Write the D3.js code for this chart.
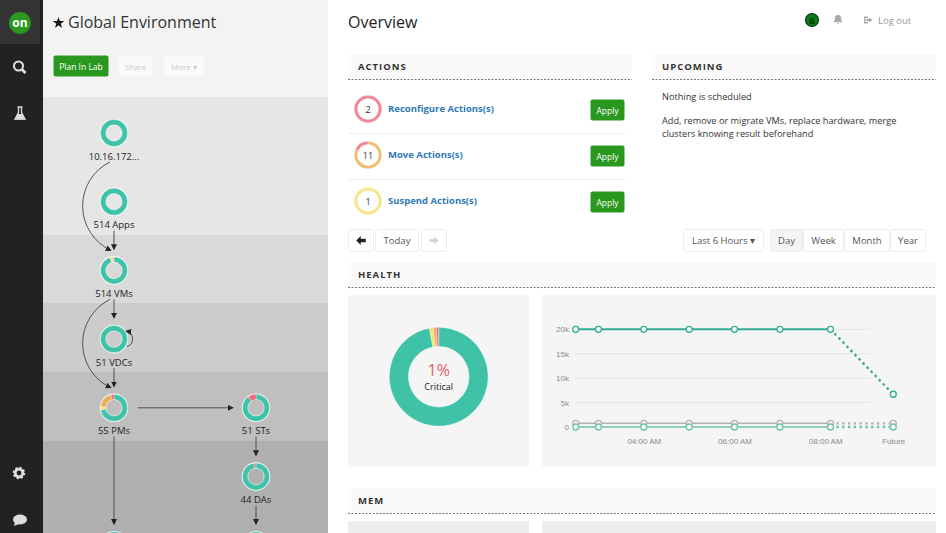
<!DOCTYPE html>
<html>
<head>
<meta charset="utf-8">
<script src="https://cdn.jsdelivr.net/npm/d3@7"></script>
<style>
  html, body { margin: 0; padding: 0; background: #fff; overflow: hidden; }
  svg { display: block; font-family: "Open Sans", sans-serif; }
  .axis text { font-family: "Liberation Sans", sans-serif; font-size: 8px; fill: #8a8a8a; }
  .axis .domain, .axis .tick line { display: none; }
</style>
</head>
<body>
<svg id="page" width="946" height="533"></svg>
<script>
// topology nodes
let nodeNames = ["10.16.172...", "514 Apps", "514 VMs", "51 VDCs", "55 PMs", "51 STs", "44 DAs", "", ""];
let nodeCols = [0, 0, 0, 0, 0, 1, 1, 0, 1];
let nodeRows = [0, 1, 2, 3, 4, 4, 5, 6, 6];
// ring counts, clockwise from the top: healthy, minor, major, critical
let nodeHealthy = [1, 1, 490, 51, 40, 46, 43, 1, 1];
let nodeMinor = [0, 0, 13, 0, 2, 0, 0, 0, 0];
let nodeMajor = [0, 0, 9, 0, 11, 0, 0, 0, 0];
let nodeCritical = [0, 0, 2, 0, 2, 5, 1, 0, 0];
let edgeFrom = [0, 1, 2, 2, 3, 3, 4, 4, 5, 6];
let edgeTo = [2, 2, 3, 4, 4, 3, 5, 7, 6, 8];
let edgeKind = ["arc", "line", "line", "arc", "line", "self", "side", "line", "line", "line"];

// actions
let actionNames = ["Reconfigure Actions(s)", "Move Actions(s)", "Suspend Actions(s)"];
let actionCounts = [2, 11, 1];
let actionMinor = [0, 0, 1];
let actionMajor = [0, 9, 0];
let actionCritical = [2, 2, 0];

// health donut, percent
let healthLabels = ["Healthy", "Minor", "Major", "Critical"];
let healthValues = [97, 1.2, 1, 0.8];

// health line chart
let times = ["02:30", "03:00", "04:00", "05:00", "06:00", "07:00", "08:07"];
let futureTime = "09:30";
let capacity = [20000, 20000, 20000, 20000, 20000, 20000, 20000];
let capacityFuture = 6700;
let utilized = [750, 750, 750, 750, 750, 750, 750];
let utilizedFuture = 750;
let baseline = [0, 0, 0, 0, 0, 0, 0];
let baselineFuture = 0;
let yTicks = [0, 5000, 10000, 15000, 20000];
let xTicks = ["04:00", "06:00", "08:00"];

let colors = ["#40c2a8", "#f5e06e", "#eead50", "#ee6a7c"];
let green = "#2a981e";
let svg = d3.select("#page");

function box(parent, x, y, w, h, fill, stroke, r) {
  return parent.append("rect").attr("x", x).attr("y", y).attr("width", w).attr("height", h)
    .attr("fill", fill).attr("stroke", stroke || "none").attr("rx", r || 0);
}
function label(parent, x, y, text, size, fill, anchor, weight) {
  return parent.append("text").attr("x", x).attr("y", y).text(text)
    .attr("font-size", size).attr("fill", fill)
    .attr("text-anchor", anchor || "start").attr("font-weight", weight || 400)
    .attr("dominant-baseline", "central");
}
function button(parent, x, y, w, h, text, fill, color, stroke, size) {
  box(parent, x + 0.5, y + 0.5, w - 1, h - 1, fill, stroke, 2);
  label(parent, x + w / 2, y + h / 2, text, size || 9, color, "middle");
}
function ring(parent, cx, cy, values, inner, outer, pad) {
  let pie = d3.pie().sort(null);
  let arc = d3.arc().innerRadius(inner).outerRadius(outer);
  return parent.append("g").attr("transform", `translate(${cx},${cy})`)
    .selectAll("path").data(pie(values)).join("path")
    .attr("d", arc).attr("fill", (d, i) => colors[i])
    .attr("stroke", "#fff").attr("stroke-width", d => d.value > 0 ? pad : 0);
}

/* left nav */
let nav = svg.append("g");
box(nav, 0, 0, 43, 533, "#222");
box(nav, 0, 0, 40, 44, "#333");
nav.append("circle").attr("cx", 20).attr("cy", 23).attr("r", 11).attr("fill", green);
label(nav, 20, 22, "on", 12, "#fff", "middle", 700);
// search
nav.append("circle").attr("cx", 18.5).attr("cy", 66).attr("r", 4.5).attr("fill", "none").attr("stroke", "#e4e4e4").attr("stroke-width", 2);
nav.append("path").attr("d", "M22 69.5L25.5 73").attr("stroke", "#e4e4e4").attr("stroke-width", 2.6);
// flask
nav.append("path").attr("d", "M17.5 107h5M18.5 107v5.5l-3.5 6.5h10l-3.5-6.5v-5.5").attr("fill", "none").attr("stroke", "#ddd").attr("stroke-width", 1.3);
nav.append("path").attr("d", "M17.5 114h5l3 5.5h-11z").attr("fill", "#ddd");
// gear
nav.append("circle").attr("cx", 19).attr("cy", 473).attr("r", 3.8).attr("fill", "none").attr("stroke", "#ddd").attr("stroke-width", 2.8);
nav.append("circle").attr("cx", 19).attr("cy", 473).attr("r", 5.4).attr("fill", "none").attr("stroke", "#ddd").attr("stroke-width", 1.8).attr("stroke-dasharray", "2.2 2");
// bubble
nav.append("ellipse").attr("cx", 20).attr("cy", 519.5).attr("rx", 7).attr("ry", 5).attr("fill", "#ddd");
nav.append("path").attr("d", "M15 522l-1 4 5-2z").attr("fill", "#ddd");

/* topology panel */
let side = svg.append("g");
box(side, 43, 0, 285, 533, "#f3f3f3");
let bandTops = [97, 235, 303, 372, 441];
let bandBottoms = [235, 303, 372, 441, 533];
let bandFills = ["#e6e6e6", "#d9d9d9", "#cccccc", "#bfbfbf", "#b0b0b0"];
side.selectAll("rect.band").data(bandTops).join("rect").attr("class", "band")
  .attr("x", 43).attr("width", 285).attr("y", d => d)
  .attr("height", (d, i) => bandBottoms[i] - d).attr("fill", (d, i) => bandFills[i]);

side.append("path").attr("d", d3.symbol().type(d3.symbolStar).size(42)()).attr("transform", "translate(58.5,23)").attr("fill", "#111");
label(side, 68, 22, "Global Environment", 16, "#333");
button(side, 53, 55, 56, 22, "Plan In Lab", green, "#fff", null, 8.5);
button(side, 118, 56, 35, 20, "Share", "#fafafa", "#c9c9c9", null, 8);
button(side, 164, 56, 40, 20, "More ▾", "#fafafa", "#c9c9c9", null, 8);

let colX = d3.scaleLinear().domain([0, 1]).range([114, 256]);
let rowY = d3.scaleLinear().domain([0, 1]).range([133, 201.7]);
let nx = i => colX(nodeCols[i]);
let ny = i => rowY(nodeRows[i]);

svg.append("defs").append("marker").attr("id", "arrow")
  .attr("viewBox", "0 0 8 8").attr("refX", 7).attr("refY", 4)
  .attr("markerWidth", 6).attr("markerHeight", 6).attr("markerUnits", "userSpaceOnUse")
  .attr("orient", "auto")
  .append("path").attr("d", "M0 0L8 4L0 8z").attr("fill", "#222");

function edgePath(d, i) {
  let a = edgeFrom[i], b = edgeTo[i], kind = edgeKind[i];
  let x = nx(a), y = ny(a), tx = nx(b), ty = ny(b);
  if (kind == "arc") return `M${x - 4} ${y + 29}A49 49 0 0 0 ${tx - 3} ${ty - 20}`;
  if (kind == "self") return `M${x + 13} ${y + 7.5}A8 8 0 0 0 ${x + 12} ${y - 8}`;
  if (kind == "side") return `M${x + 24} ${y}L${tx - 23} ${ty}`;
  return `M${x} ${y + 29}L${tx} ${ty - 21}`;
}

nodeNames.forEach(function(name, i) {
  side.append("circle").attr("cx", nx(i)).attr("cy", ny(i)).attr("r", 14.3).attr("fill", "#fff").attr("fill-opacity", 0.85);
  side.append("circle").attr("cx", nx(i)).attr("cy", ny(i)).attr("r", 8).attr("fill", bandFills[[0, 0, 1, 2, 3, 3, 4, 4, 4][i]]);
  ring(side, nx(i), ny(i), [nodeHealthy[i], nodeMinor[i], nodeMajor[i], nodeCritical[i]], 8.3, 13.5, 0.3);
  label(side, nx(i), ny(i) + 23, name, 9.5, "#222", "middle");
});

side.selectAll("path.edge").data(edgeFrom).join("path").attr("class", "edge")
  .attr("d", edgePath).attr("fill", "none").attr("stroke", "#444").attr("stroke-width", 0.9)
  .attr("marker-end", "url(#arrow)");

/* main header */
let main = svg.append("g");
label(main, 348, 22, "Overview", 16, "#222");
main.append("circle").attr("cx", 812).attr("cy", 20).attr("r", 6.5).attr("fill", "#0b7a18").attr("stroke", "#0c3d12").attr("stroke-width", 1.2);
label(main, 812, 20, "G", 8, "#04330a", "middle", 700);
main.append("path").attr("d", "M838 15c-2.6 0-3.2 2-3.2 4.2 0 1.6-.8 2.4-1.3 3h9c-.5-.6-1.3-1.4-1.3-3 0-2.2-.6-4.2-3.2-4.2zM836.8 23h2.4l-1.2 1.3z").attr("fill", "#aaa");
main.append("path").attr("d", "M864 16.5h4v1.4h-2.6v4.2h2.6v1.4h-4zM869 17.5l3.5 2.5-3.5 2.5v-1.5h-2.5v-2h2.5z").attr("fill", "#aaa");
label(main, 878, 20, "Log out", 9.5, "#999");

function sectionHead(x, w, y, text) {
  box(main, x, y, w, 25, "#fafafa");
  main.append("line").attr("x1", x).attr("x2", x + w).attr("y1", y + 25.5).attr("y2", y + 25.5)
    .attr("stroke", "#555").attr("stroke-width", 0.8).attr("stroke-dasharray", "2 1.5");
  label(main, x + 10, y + 12.5, text, 9.5, "#333", "start", 700).attr("letter-spacing", 1);
}
sectionHead(348, 284, 54, "ACTIONS");
sectionHead(652, 284, 54, "UPCOMING");
sectionHead(348, 588, 262, "HEALTH");
sectionHead(348, 588, 488, "MEM");

/* actions */
let actionY = d3.scaleLinear().domain([0, 1]).range([109, 155]);
actionNames.forEach(function(name, i) {
  let y = actionY(i);
  ring(main, 368, y, [0, actionMinor[i], actionMajor[i], actionCritical[i]], 10.5, 13.8, 0.3).attr("opacity", 0.8);
  label(main, 368, y, actionCounts[i], 9, "#333", "middle");
  label(main, 388, y - 1, name, 9.5, "#2f78b9", "start", 700);
  button(main, 590, y - 10, 35, 22, "Apply", green, "#fff", null, 8.5);
  if (i < 2) main.append("line").attr("x1", 348).attr("x2", 625).attr("y1", y + 24.5).attr("y2", y + 24.5).attr("stroke", "#eee");
});

label(main, 662, 96, "Nothing is scheduled", 9.2, "#333");
label(main, 662, 120.5, "Add, remove or migrate VMs, replace hardware, merge", 9.2, "#333");
label(main, 662, 133, "clusters knowing result beforehand", 9.2, "#333");

/* time controls */
let ctlStroke = "#ececec";
button(main, 348, 229, 26, 23, "", "#fff", "#222", ctlStroke, 10);
main.append("path").attr("d", "M356.5 240.5l4-4v2.6h5v2.8h-5v2.6z").attr("fill", "#222").attr("stroke", "#222").attr("stroke-width", 0.5);
button(main, 375, 229, 44, 23, "Today", "#fff", "#555", ctlStroke, 9.5);
button(main, 421, 229, 26, 23, "", "#fff", "#ccc", ctlStroke, 10);
main.append("path").attr("d", "M438.5 240.5l-4-4v2.6h-5v2.8h5v2.6z").attr("fill", "#d4d4d4");
button(main, 683, 229, 81, 23, "Last 6 Hours ▾", "#fff", "#555", ctlStroke, 9.5);
button(main, 770, 229, 33, 23, "Day", "#f4f4f4", "#555", ctlStroke, 9.5);
button(main, 803, 229, 41, 23, "Week", "#fff", "#555", ctlStroke, 9.5);
button(main, 844, 229, 46, 23, "Month", "#fff", "#555", ctlStroke, 9.5);
button(main, 890, 229, 36, 23, "Year", "#fff", "#555", ctlStroke, 9.5);

/* health panels */
box(main, 348, 295, 181, 171.5, "#f5f5f5");
box(main, 542, 295, 394, 171.5, "#f5f5f5");
box(main, 348, 521, 181, 12, "#eeeeee");
box(main, 542, 521, 394, 12, "#eeeeee");

ring(main, 438.7, 376.7, healthValues, 30.3, 49.4, 0.4);
label(main, 438.7, 369.5, "1%", 16, "#f0566a", "middle");
label(main, 438.7, 386, "Critical", 9, "#222", "middle");

/* health line chart */
let chart = svg.append("g");
let parseTime = d3.timeParse("%H:%M");
let x = d3.scaleTime().domain([parseTime(times[0]), parseTime(futureTime)]).range([575.75, 893.25]);
let y = d3.scaleLinear().domain([0, 20000]).range([427, 329.3]);

chart.append("g").selectAll("line").data(yTicks.slice(1)).join("line")
  .attr("x1", 575).attr("x2", 870).attr("y1", d => y(d)).attr("y2", d => y(d))
  .attr("stroke", "#e3e3e3");

let yAxis = d3.axisLeft(y).tickValues(yTicks).tickSize(0).tickPadding(0)
  .tickFormat(d => d == 0 ? "0" : d / 1000 + "k");
chart.append("g").attr("class", "axis").attr("transform", "translate(569,0)").call(yAxis);

let xAxis = d3.axisBottom(x).tickValues(xTicks.map(parseTime).concat([parseTime(futureTime)]))
  .tickSize(0).tickPadding(0)
  .tickFormat(d => d.getTime() == parseTime(futureTime).getTime() ? "Future" : d3.timeFormat("%I:%M %p")(d));
chart.append("g").attr("class", "axis").attr("transform", "translate(0,438)").call(xAxis);

let line = d3.line().x(d => x(d.t)).y(d => y(d.v));
let series = [
  { past: utilized, future: utilizedFuture, color: "#b3b3b3", width: 1.5 },
  { past: baseline, future: baselineFuture, color: "#6cc4ae", width: 1.5 },
  { past: capacity, future: capacityFuture, color: "#33ad8f", width: 2 }
];
series.forEach(function(s) {
  let pts = s.past.map((v, i) => ({ t: parseTime(times[i]), v: v }));
  let fut = { t: parseTime(futureTime), v: s.future };
  chart.append("path").attr("d", line([pts[pts.length - 1], fut])).attr("fill", "none")
    .attr("stroke", s.color).attr("stroke-width", 2.4).attr("stroke-dasharray", "2.4 3.4");
  chart.append("path").attr("d", line(pts)).attr("fill", "none")
    .attr("stroke", s.color).attr("stroke-width", s.width);
  chart.selectAll(null).data(pts.concat([fut])).join("circle")
    .attr("cx", d => x(d.t)).attr("cy", d => y(d.v)).attr("r", 3)
    .attr("fill", "#f5f5f5").attr("stroke", s.color).attr("stroke-width", 1.3);
});
</script>
</body>
</html>
